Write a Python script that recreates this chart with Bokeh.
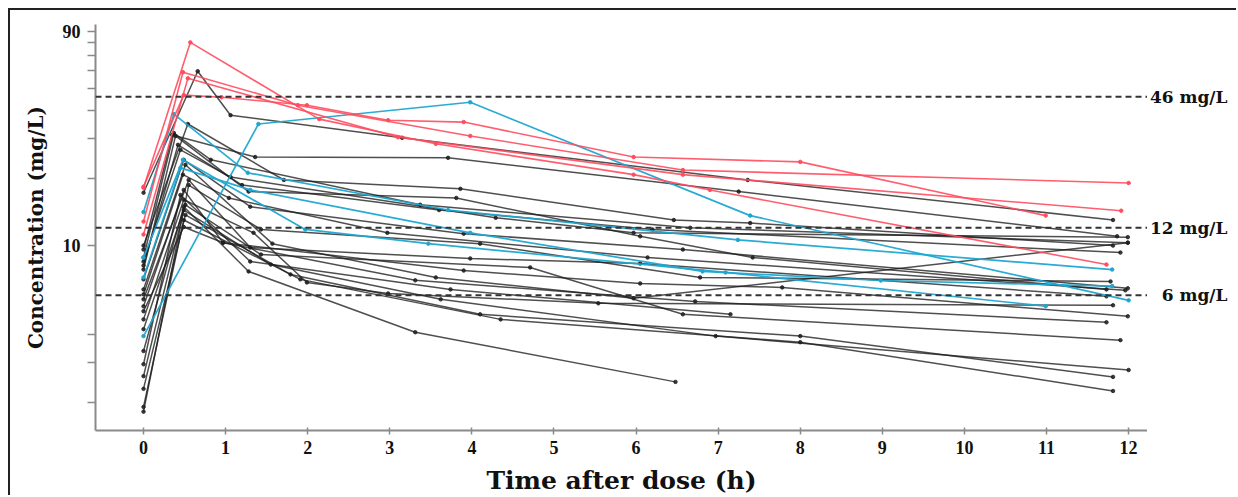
from bokeh.plotting import figure
from bokeh.layouts import row
from bokeh.models import Range1d, FixedTicker, Span, Label, BasicTickFormatter
from bokeh.embed import file_html
from bokeh.resources import INLINE

# ---------------- data (time in h, concentration in mg/L) ----------------
red_times = [
    [0, 0.57, 2.14, 3.56, 5.97, 6.90, 11.73],
    [0, 0.49, 0.95, 1.99, 2.98, 3.90, 5.97, 8.00, 10.99],
    [0, 0.48, 1.88, 3.98, 6.57, 12.0],
    [0, 0.54, 3.10, 6.57, 11.91],
]
red_conc = [
    [18.1, 80.4, 36.6, 28.4, 20.7, 17.7, 8.23],
    [18.3, 46.8, 45.8, 42.2, 36.2, 35.5, 24.8, 23.6, 13.6],
    [12.8, 59.2, 42.2, 30.8, 21.7, 19.0],
    [11.2, 55.6, 30.4, 20.7, 14.3],
]

blue_times = [
    [0, 1.40, 3.98, 7.39, 12.0],
    [0, 0.37, 1.27, 3.71, 7.24, 11.80],
    [0, 0.48, 1.97, 3.47, 7.09, 10.99],
    [0, 0.45, 1.30, 3.98, 6.81, 8.98, 11.80],
]
blue_conc = [
    [3.95, 34.8, 43.5, 13.6, 5.70],
    [14.1, 38.5, 21.1, 14.4, 10.6, 7.82],
    [8.85, 24.1, 11.8, 10.2, 7.59, 5.37],
    [7.21, 22.2, 17.7, 11.4, 7.67, 6.99, 6.60],
]

black_times = [
    [0, 0.66, 1.06, 3.15, 7.36, 11.81],
    [0, 0.35, 1.36, 3.71, 7.25, 11.86],
    [0, 0.54, 1.71, 3.86, 6.46, 7.39, 11.81],
    [0, 0.45, 1.06, 4.29, 5.97, 11.99],
    [0, 0.51, 1.57, 3.56, 5.97, 11.99],
    [0, 0.39, 1.28, 3.81, 6.05, 7.42, 11.73],
    [0, 0.49, 1.30, 3.90, 6.57, 11.99],
    [0, 0.48, 1.04, 2.97, 6.14, 11.96],
    [0, 0.55, 1.30, 3.98, 6.05, 11.73],
    [0, 0.49, 0.97, 3.90, 6.05, 7.78, 11.99],
    [0, 0.49, 0.97, 3.31, 6.72, 11.73],
    [0, 0.49, 1.34, 1.99, 2.98, 5.54, 11.81],
    [0, 0.51, 1.43, 4.71, 6.57, 11.90],
    [0, 0.49, 1.28, 3.31, 6.48],
    [0, 0.45, 1.30, 3.74, 7.15],
    [0, 0.49, 1.55, 3.62, 6.97, 12.0],
    [0, 0.51, 1.79, 4.10, 8.00, 11.81],
    [0, 0.49, 1.91, 4.35, 8.00, 11.81],
    [0, 0.55, 1.43, 4.10, 6.78, 11.78],
    [0, 0.37, 0.82, 3.37, 6.66, 11.99],
    [0, 0.42, 1.20, 3.60, 6.20, 11.90],
]
black_conc = [
    [17.2, 59.8, 38.1, 30.2, 19.6, 13.0],
    [9.6, 31.1, 24.8, 24.6, 17.4, 11.0],
    [10.0, 34.8, 19.6, 17.9, 13.0, 12.6, 10.0],
    [8.49, 26.7, 20.2, 13.3, 11.4, 10.9],
    [6.38, 22.9, 10.2, 7.21, 5.82, 10.3],
    [7.82, 30.8, 17.4, 16.3, 11.0, 8.85, 6.38],
    [7.07, 24.1, 14.9, 11.3, 9.6, 6.45],
    [6.06, 20.7, 16.3, 11.4, 8.85, 6.32],
    [5.76, 19.6, 9.8, 8.76, 8.32, 5.94],
    [5.36, 17.7, 10.3, 7.74, 6.78, 6.51, 4.84],
    [5.10, 12.1, 10.3, 7.00, 5.64, 4.55],
    [4.69, 16.0, 11.4, 6.85, 6.12, 5.53, 5.42],
    [4.24, 15.2, 9.12, 7.99, 4.94, 3.79],
    [3.39, 14.9, 7.67, 4.11, 2.47],
    [2.96, 16.8, 8.49, 6.38, 4.94],
    [2.62, 14.4, 8.23, 5.76, 3.95, 2.79],
    [2.30, 13.7, 7.44, 4.94, 3.95, 2.60],
    [1.91, 13.0, 7.07, 4.69, 3.71, 2.25],
    [1.82, 18.6, 11.8, 10.2, 7.21, 6.92],
    [8.85, 31.7, 24.1, 15.2, 12.0, 10.3],
    [8.15, 28.1, 18.6, 14.4, 11.8, 9.31],
]

thresholds = [46, 12, 6]
threshold_labels = ["46 mg/L", "12 mg/L", "6 mg/L"]

x_ticks = list(range(0, 13))
y_ticks = [2, 3, 4, 10, 20, 30, 40, 50, 60, 70, 80, 90]
y_tick_labels = {t: ("10" if t == 10 else "90" if t == 90 else "") for t in y_ticks}

# ---------------- figures ----------------
SERIF = "Liberation Serif"
WIDE = "DejaVu Serif"
H = 487
y_rng = Range1d(1.5, 96.6)

p = figure(width=1137, height=H, y_axis_type="log",
           x_range=Range1d(-0.585, 12.23), y_range=y_rng,
           output_backend="svg", toolbar_location=None,
           min_border_left=85, min_border_right=0,
           min_border_top=14, min_border_bottom=65)
p.styles = {"margin-left": "10px", "margin-top": "10px",
            "box-shadow": "-2px -2px 0 0 #222222, 0 -2px 0 0 #222222"}
p.grid.visible = False
p.outline_line_color = None

BLACK = "#1e1e1e"
BLUE = "#1ea6d2"
RED = "#ff4d5e"

for lvl in thresholds:
    p.add_layout(Span(location=lvl, dimension="width", line_color="#333333",
                      line_width=2, line_dash="6 4"))

for ts, cs in zip(black_times, black_conc):
    p.line(ts, cs, line_color=BLACK, line_width=1.5, line_alpha=0.78)
    p.scatter(ts, cs, size=3.5, color=BLACK, alpha=0.85)
for ts, cs in zip(blue_times, blue_conc):
    p.line(ts, cs, line_color=BLUE, line_width=1.7, line_alpha=0.95)
    p.scatter(ts, cs, size=3.5, color=BLUE)
for ts, cs in zip(red_times, red_conc):
    p.line(ts, cs, line_color=RED, line_width=1.6, line_alpha=0.9)
    p.scatter(ts, cs, size=3.5, color=RED)

for ax in (p.xaxis[0], p.yaxis[0]):
    ax.axis_line_color = "#8a8a8a"
    ax.axis_line_width = 2
    ax.major_tick_line_color = "#8a8a8a"
    ax.major_tick_line_width = 1.5
    ax.minor_tick_line_color = None
    ax.major_label_text_font = SERIF
    ax.major_label_text_font_style = "bold"
    ax.major_label_text_font_size = "18px"
    ax.major_label_text_color = "#111111"
    ax.axis_label_text_font = WIDE
    ax.axis_label_text_font_style = "bold"
    ax.axis_label_text_color = "#111111"

p.xaxis.ticker = FixedTicker(ticks=x_ticks)
p.xaxis.major_tick_in = 3
p.xaxis.major_tick_out = 4
p.xaxis.major_label_standoff = 6
p.xaxis.axis_label = "Time after dose (h)"
p.xaxis.axis_label_text_font_size = "25px"
p.xaxis.axis_label_standoff = 9

p.yaxis.ticker = FixedTicker(ticks=y_ticks, minor_ticks=[])
p.yaxis.formatter = BasicTickFormatter()
p.yaxis.major_label_overrides = y_tick_labels
p.yaxis.major_tick_in = 0
p.yaxis.major_tick_out = 8
p.yaxis.major_label_standoff = 7
p.yaxis.axis_label = "Concentration (mg/L)"
p.yaxis.axis_label_text_font_size = "20px"
p.yaxis.axis_label_standoff = 12

# narrow side panel holding the threshold labels (shares the y scale)
side = figure(width=89, height=H, y_axis_type="log",
              x_range=Range1d(0, 89), y_range=y_rng,
              x_axis_location=None, y_axis_location=None,
              output_backend="svg", toolbar_location=None,
              min_border_left=0, min_border_right=0,
              min_border_top=14, min_border_bottom=65)
side.styles = {"margin-top": "10px", "box-shadow": "0 -2px 0 0 #222222"}
side.grid.visible = False
side.outline_line_color = None
for lvl, txt in zip(thresholds, threshold_labels):
    side.add_layout(Label(x=80, y=lvl, text=txt, text_align="right",
                          text_baseline="middle", text_font=WIDE,
                          text_font_style="bold", text_font_size="17px",
                          text_color="#111111"))

layout = row(p, side)
open("out.html", "w").write(file_html(layout, INLINE))
